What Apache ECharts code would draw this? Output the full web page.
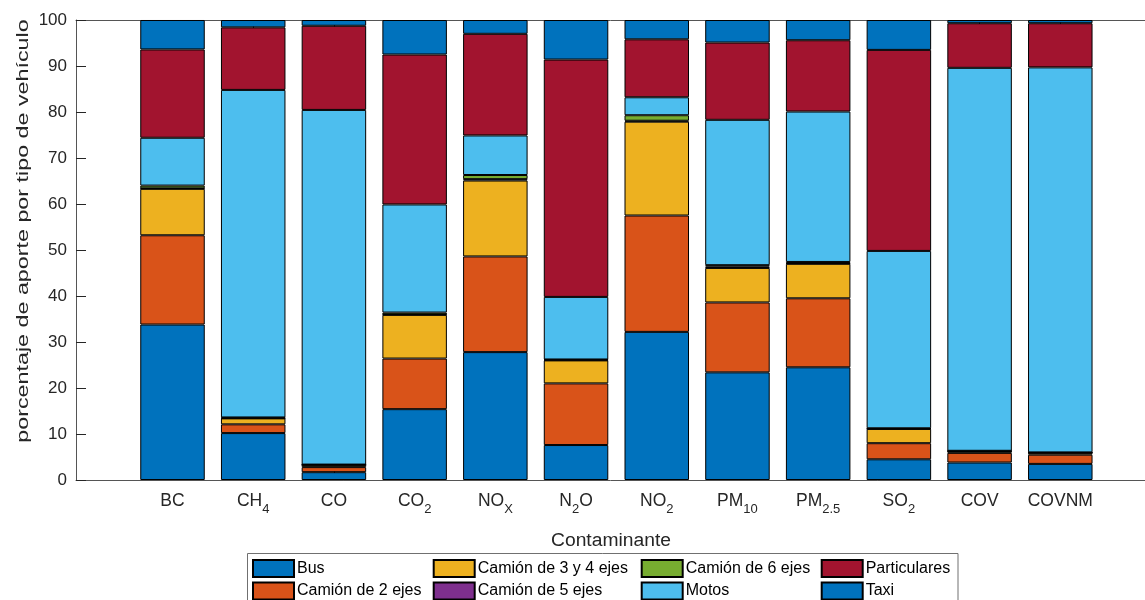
<!DOCTYPE html>
<html>
<head>
<meta charset="utf-8">
<script src="https://cdn.jsdelivr.net/npm/echarts@6/dist/echarts.min.js"></script>
<style>html,body{margin:0;padding:0;background:#fff}#c{width:1145px;height:600px}</style>
</head>
<body>
<div id="c"></div>
<script>
// Categories (pollutants) and tick labels with subscripts
const categories = ['BC','CH4','CO','CO2','NOX','N2O','NO2','PM10','PM2.5','SO2','COV','COVNM'];
const tickLabels = ['{m|BC}','{m|CH}{s|4}','{m|CO}','{m|CO}{s|2}','{m|NO}{s|X}','{m|N}{s|2}{m|O}','{m|NO}{s|2}','{m|PM}{s|10}','{m|PM}{s|2.5}','{m|SO}{s|2}','{m|COV}','{m|COVNM}'];
const yTicks = [0,10,20,30,40,50,60,70,80,90,100];

// Series values (% contribution by vehicle type)
const seriesNames = ['Bus','Camión de 2 ejes','Camión de 3 y 4 ejes','Camión de 5 ejes','Camión de 6 ejes','Motos','Particulares','Taxi'];
const bus   = [33.8, 10.2, 1.7, 15.4, 27.8, 7.6, 32.2, 23.4, 24.5, 4.5, 3.8, 3.5];
const cam2  = [19.4, 1.9, 1.1, 11.0, 20.8, 13.4, 25.3, 15.2, 15.0, 3.5, 2.1, 2.0];
const cam34 = [10.1, 1.3, 0.5, 9.5, 16.5, 5.0, 20.4, 7.5, 7.5, 3.1, 0.4, 0.4];
const cam5  = [0.1, 0.05, 0.0, 0.1, 0.3, 0.1, 0.2, 0.3, 0.1, 0.05, 0.0, 0.05];
const cam6  = [0.6, 0.15, 0.05, 0.4, 0.9, 0.1, 1.2, 0.3, 0.3, 0.1, 0.05, 0.05];
const motos = [10.4, 71.2, 77.1, 23.5, 8.6, 13.6, 3.9, 31.6, 32.7, 38.55, 83.25, 83.7];
const part  = [19.2, 13.6, 18.3, 32.6, 22.1, 51.6, 12.6, 16.8, 15.5, 43.7, 9.7, 9.6];
const taxi  = [6.4, 1.6, 1.25, 7.5, 3.0, 8.6, 4.2, 4.9, 4.4, 6.5, 0.7, 0.7];
const seriesValues = [bus, cam2, cam34, cam5, cam6, motos, part, taxi];
const colors = ['#0072BD','#D95319','#EDB120','#7E2F8E','#77AC30','#4DBEEE','#A2142F','#0072BD'];

const FONT = '"Liberation Sans", Arial, Helvetica, sans-serif';
const AX = '#555555';
const TXT = '#262626';

const chart = echarts.init(document.getElementById('c'), null, {renderer: 'canvas'});

const series = seriesNames.map((name, i) => ({
  name: name,
  type: 'bar',
  stack: 'total',
  xAxisIndex: 2,
  yAxisIndex: 1,
  barWidth: 64.5,
  data: seriesValues[i],
  itemStyle: {color: colors[i], borderColor: '#000', borderWidth: 1},
  emphasis: {disabled: true},
  animation: false
}));

// legend grid: column-major, 2 rows x 4 columns
const legendLefts = [252, 432.7, 640.7, 820.7];
const legendTops = [559, 581.5];
const legends = seriesNames.map((name, i) => ({
  data: [name],
  left: legendLefts[Math.floor(i / 2)],
  top: legendTops[i % 2],
  orient: 'horizontal', padding: 0,
  itemWidth: 41, itemHeight: 17, icon: 'rect',
  selectedMode: false,
  textStyle: {fontSize: 16, color: '#000', fontFamily: FONT, padding: [0, 0, 0, -2]}
}));

const option = {
  backgroundColor: '#fff',
  animation: false,
  color: colors,
  grid: [
    {left: 76, top: 20, width: 1077, height: 460, containLabel: false},
    {left: 132.15, top: 20, width: 968.5, height: 460, containLabel: false}
  ],
  xAxis: [
    {gridIndex: 0, type: 'value', min: 0, max: 1, position: 'bottom',
     axisLine: {show: true, lineStyle: {color: AX, width: 1}}, axisTick: {show: false},
     axisLabel: {show: false}, splitLine: {show: false}},
    {gridIndex: 0, type: 'value', min: 0, max: 1, position: 'top',
     axisLine: {show: true, lineStyle: {color: AX, width: 1}}, axisTick: {show: false},
     axisLabel: {show: false}, splitLine: {show: false}},
    {gridIndex: 1, type: 'category', data: categories, position: 'bottom', boundaryGap: true,
     axisLine: {show: false},
     axisTick: {show: true, inside: true, length: 10, alignWithLabel: true, lineStyle: {color: TXT, width: 1}},
     axisLabel: {
       show: true, margin: 12, interval: 0,
       formatter: (v, idx) => tickLabels[idx],
       rich: {
         m: {fontSize: 17.5, lineHeight: 17, verticalAlign: 'top', color: TXT, fontFamily: FONT},
         s: {fontSize: 13, lineHeight: 13, verticalAlign: 'top', padding: [11, 0, 0, 0], color: TXT, fontFamily: FONT}
       }
     },
     splitLine: {show: false}},
    {gridIndex: 1, type: 'category', data: categories, position: 'top', boundaryGap: true,
     axisLine: {show: false},
     axisTick: {show: true, inside: true, length: 10, alignWithLabel: true, lineStyle: {color: TXT, width: 1}},
     axisLabel: {show: false}, splitLine: {show: false}}
  ],
  yAxis: [
    {gridIndex: 0, type: 'value', min: 0, max: 100, interval: 10,
     axisLine: {show: true, lineStyle: {color: AX, width: 1}},
     axisTick: {show: true, inside: true, length: 10, lineStyle: {color: TXT, width: 1}},
     axisLabel: {show: true, margin: 9, fontSize: 17, color: TXT, fontFamily: FONT,
       formatter: v => String(v)},
     splitLine: {show: false}},
    {gridIndex: 1, type: 'value', min: 0, max: 100, interval: 10,
     axisLine: {show: false}, axisTick: {show: false}, axisLabel: {show: false}, splitLine: {show: false}}
  ],
  legend: legends,
  graphic: [
    {type: 'text', x: 23, y: 231, rotation: Math.PI / 2, scaleX: 1.37, scaleY: 1, silent: true,
     style: {text: 'porcentaje de aporte por tipo de vehículo', fontSize: 17, fontFamily: FONT,
       fill: TXT, align: 'center', verticalAlign: 'middle'}},
    {type: 'text', x: 611, y: 541, scaleX: 1.07, silent: true,
     style: {text: 'Contaminante', fontSize: 18, fontFamily: FONT,
       fill: TXT, align: 'center', verticalAlign: 'middle'}},
    {type: 'rect', silent: true, z: -1,
     shape: {x: 247.5, y: 553.5, width: 710.5, height: 60},
     style: {fill: 'none', stroke: '#707070', lineWidth: 1}}
  ],
  series: series
};
chart.setOption(option);
</script>
</body>
</html>
